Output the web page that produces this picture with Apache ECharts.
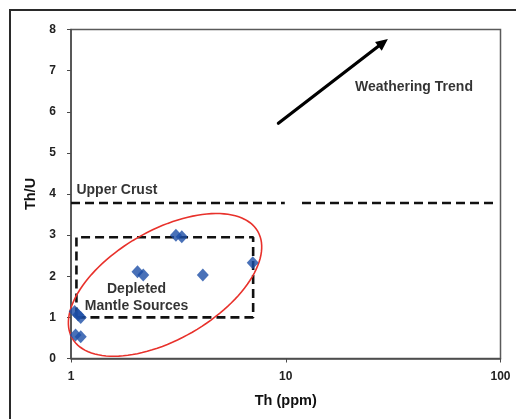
<!DOCTYPE html>
<html>
<head>
<meta charset="utf-8">
<script src="https://cdn.jsdelivr.net/npm/echarts@6/dist/echarts.min.js"></script>
<style>
  html, body { margin: 0; padding: 0; background: #fff; }
  #chart { width: 516px; height: 419px; }
</style>
</head>
<body>
<div id="chart"></div>
<script>
// Th (ppm) vs Th/U sample values
const thPpm = [3.08, 3.28, 2.04, 2.17, 4.11, 7.02, 1.04, 1.08, 1.11, 1.05, 1.11];
const thU   = [3.00, 2.96, 2.11, 2.03, 2.03, 2.33, 1.14, 1.06, 1.00, 0.57, 0.53];

// Axis ticks
const yTicks = [0, 1, 2, 3, 4, 5, 6, 7, 8];
const xTicks = [1, 10, 100];

// Upper crust reference level (Th/U) and its two dashed segments in Th
const upperCrustThU = 3.78;
const upperCrustSegA = [1.0, 9.9];
const upperCrustSegB = [11.9, 96];

// Depleted mantle sources box (Th range, Th/U range)
const boxTh = [1.06, 7.05];
const boxThU = [1.0, 2.95];

// Field ellipse: major-axis end points (Th, Th/U) and minor/major ratio
const ellipseEnds = [1.014, 0.49, 7.41, 3.09];
const ellipseRatio = 0.51;

// Weathering trend arrow (from, to)
const trendFrom = [9.24, 5.72];
const trendTo = [29.9, 7.77];

// Annotation anchors
const notes = [
  { name: 'Weathering Trend', value: [21.0, 6.61], align: 'left' },
  { name: 'Upper Crust', value: [1.06, 4.1], align: 'left' },
  { name: 'Depleted\nMantle Sources', value: [2.02, 1.48], align: 'center' }
];

const points = thPpm.map((x, i) => [x, thU[i]]);
const boxPath = [
  [boxTh[0], boxThU[0]], [boxTh[1], boxThU[0]], [boxTh[1], boxThU[1]],
  [boxTh[0], boxThU[1]], [boxTh[0], boxThU[0]]
];
const crustLine = [
  [upperCrustSegA[0], upperCrustThU], [upperCrustSegA[1], upperCrustThU],
  [(upperCrustSegA[1] + upperCrustSegB[0]) / 2, '-'],
  [upperCrustSegB[0], upperCrustThU], [upperCrustSegB[1], upperCrustThU]
];

const FONT = '"Liberation Sans", Arial, sans-serif';
const chart = echarts.init(document.getElementById('chart'), null, { renderer: 'canvas' });

const dashStyle = { color: '#111', width: 2.6, type: [9, 5] };

chart.setOption({
  animation: false,
  backgroundColor: '#fff',
  graphic: [{
    type: 'rect',
    shape: { x: 10, y: 10, width: 530, height: 430 },
    style: { fill: 'none', stroke: '#2a2a2a', lineWidth: 2 },
    silent: true, z: 0
  }],
  grid: {
    left: 71, right: 15.5, top: 29.5, bottom: 60.5,
    show: true, borderColor: '#5a5a5a', borderWidth: 1.5, backgroundColor: 'transparent'
  },
  xAxis: {
    type: 'log', logBase: 10, min: xTicks[0], max: xTicks[xTicks.length - 1],
    name: 'Th (ppm)', nameLocation: 'middle', nameGap: 35,
    nameTextStyle: { fontFamily: FONT, fontWeight: 'bold', fontSize: 14.5, color: '#111' },
    axisLine: { show: true, lineStyle: { color: '#4a4a4a', width: 1.5 } },
    axisTick: { show: true, length: 4, lineStyle: { color: '#4a4a4a' } },
    minorTick: { show: false },
    axisLabel: { fontFamily: FONT, fontWeight: 'bold', fontSize: 12, color: '#222', margin: 12 },
    splitLine: { show: false }
  },
  yAxis: {
    type: 'value', min: yTicks[0], max: yTicks[yTicks.length - 1], interval: 1,
    name: 'Th/U', nameLocation: 'middle', nameGap: 32, nameRotate: 90,
    nameTextStyle: { fontFamily: FONT, fontWeight: 'bold', fontSize: 14.5, color: '#111' },
    axisLine: { show: true, lineStyle: { color: '#4a4a4a', width: 1.5 } },
    axisTick: { show: true, length: 4, lineStyle: { color: '#4a4a4a' } },
    axisLabel: { fontFamily: FONT, fontWeight: 'bold', fontSize: 12, color: '#222', margin: 15 },
    splitLine: { show: false }
  },
  series: [
    {
      name: 'Upper Crust', type: 'line', data: crustLine, symbol: 'none',
      connectNulls: false, lineStyle: dashStyle, silent: true, z: 2
    },
    {
      name: 'Depleted Mantle box', type: 'line', data: boxPath, symbol: 'none',
      lineStyle: dashStyle, silent: true, z: 2
    },
    {
      name: 'Field', type: 'custom', clip: false, silent: true, z: 3,
      encode: { x: [0, 2], y: [1, 3] },
      data: [ellipseEnds],
      renderItem: function (params, api) {
        const p1 = api.coord([api.value(0), api.value(1)]);
        const p2 = api.coord([api.value(2), api.value(3)]);
        const cx = (p1[0] + p2[0]) / 2, cy = (p1[1] + p2[1]) / 2;
        const dx = p2[0] - p1[0], dy = p2[1] - p1[1];
        const a = Math.sqrt(dx * dx + dy * dy) / 2;
        const b = a * ellipseRatio;
        const phi = Math.atan2(dy, dx);
        const pts = [];
        for (let i = 0; i < 120; i++) {
          const t = (i / 120) * Math.PI * 2;
          const lx = a * Math.cos(t), ly = b * Math.sin(t);
          pts.push([cx + lx * Math.cos(phi) - ly * Math.sin(phi),
                    cy + lx * Math.sin(phi) + ly * Math.cos(phi)]);
        }
        return {
          type: 'polygon', shape: { points: pts },
          style: { fill: 'none', stroke: '#e8312b', lineWidth: 1.6 }
        };
      }
    },
    {
      name: 'Samples', type: 'scatter', data: points, symbol: 'diamond',
      symbolSize: [12, 13], itemStyle: { color: '#1c4ea6' }, z: 4
    },
    {
      // Weathering trend arrow: shaft plus filled head, placed through the axes
      name: 'Weathering Trend', type: 'custom', clip: false, silent: true, z: 5,
      encode: { x: [0, 2], y: [1, 3] },
      data: [[trendFrom[0], trendFrom[1], trendTo[0], trendTo[1]]],
      renderItem: function (params, api) {
        const p1 = api.coord([api.value(0), api.value(1)]);
        const p2 = api.coord([api.value(2), api.value(3)]);
        const ang = Math.atan2(p2[1] - p1[1], p2[0] - p1[0]);
        const headLen = 12, headHalf = 5.5;
        const bx = p2[0] - headLen * Math.cos(ang), by = p2[1] - headLen * Math.sin(ang);
        const nx = -Math.sin(ang), ny = Math.cos(ang);
        return {
          type: 'group',
          children: [
            {
              type: 'line',
              shape: { x1: p1[0], y1: p1[1], x2: bx + 2 * Math.cos(ang), y2: by + 2 * Math.sin(ang) },
              style: { stroke: '#000', lineWidth: 3.2, lineCap: 'round' }
            },
            {
              type: 'polygon',
              shape: { points: [p2, [bx + nx * headHalf, by + ny * headHalf], [bx - nx * headHalf, by - ny * headHalf]] },
              style: { fill: '#000' }
            }
          ]
        };
      }
    },
    {
      name: 'Notes', type: 'scatter', symbolSize: 0, silent: true, z: 6,
      data: notes.map(n => ({
        name: n.name, value: n.value,
        label: {
          show: true, position: [0, 0], formatter: '{b}', align: n.align,
          verticalAlign: 'middle', fontFamily: FONT, fontWeight: 'bold',
          fontSize: 14, color: '#000', lineHeight: 17
        }
      }))
    }
  ]
});
</script>
</body>
</html>
